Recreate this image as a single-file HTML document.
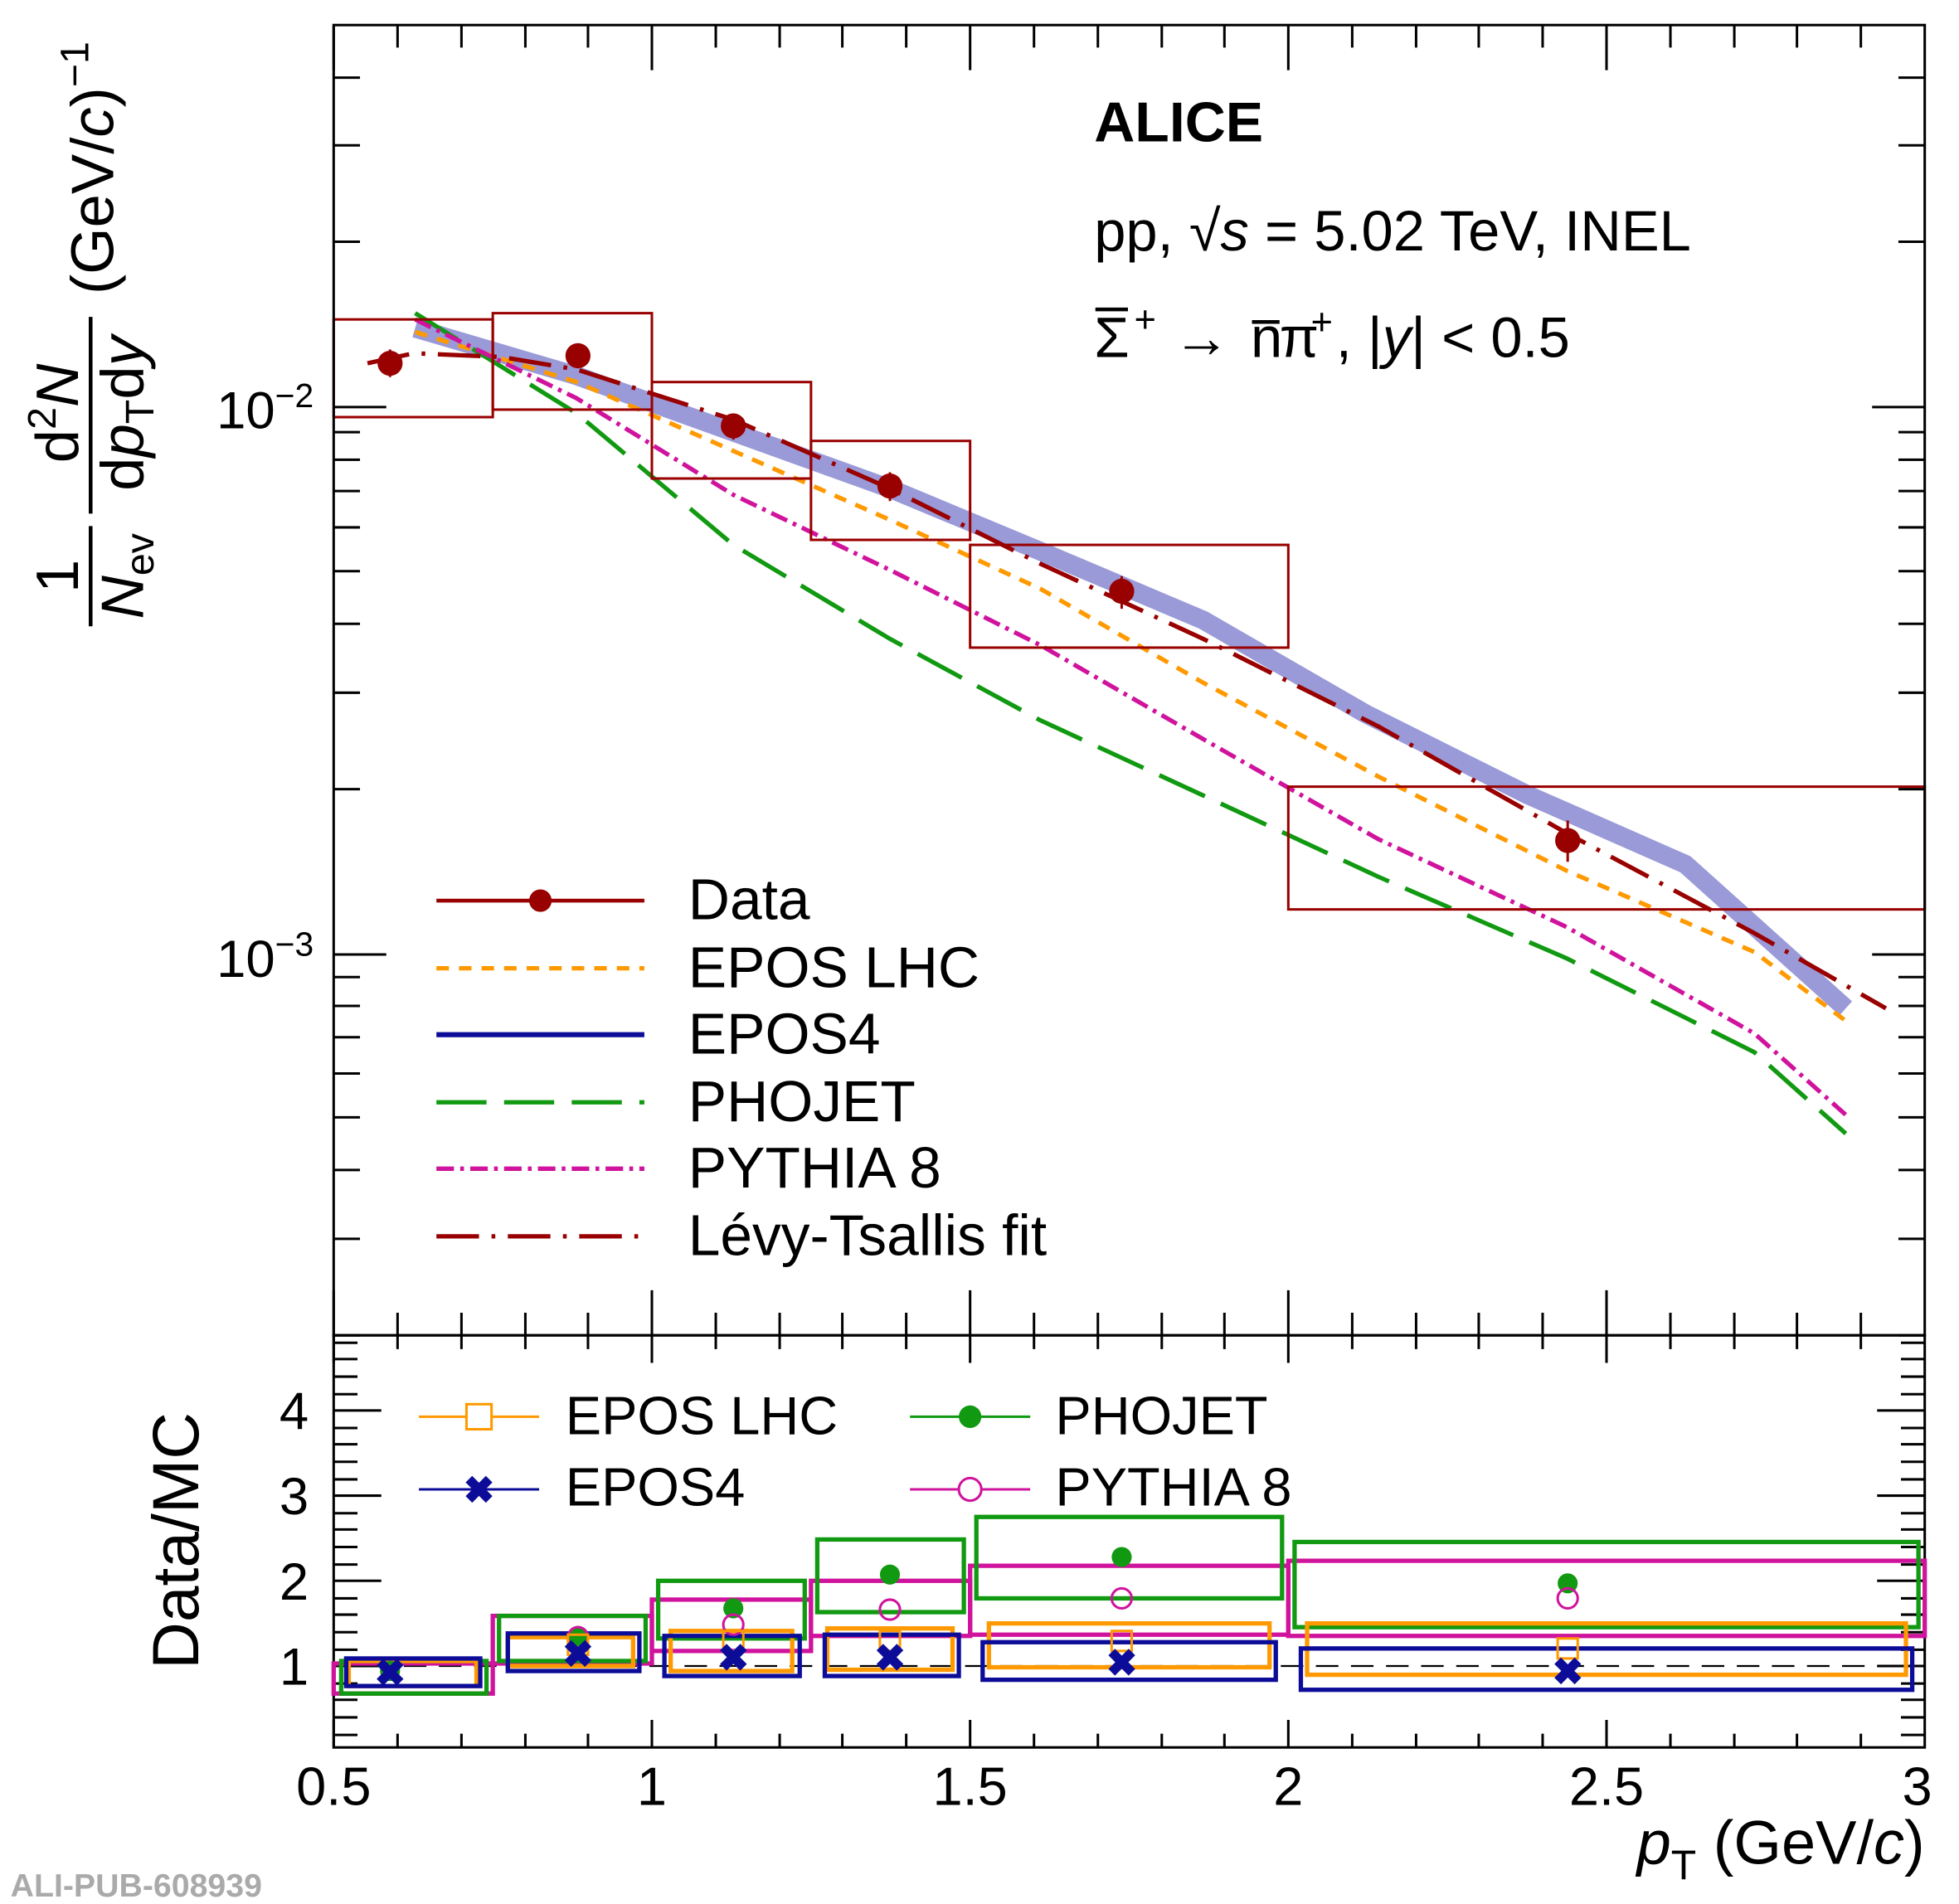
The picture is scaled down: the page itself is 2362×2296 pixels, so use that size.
<!DOCTYPE html>
<html><head><meta charset="utf-8"><style>
html,body{margin:0;padding:0;background:#fff}
svg{display:block}
text{font-family:"Liberation Sans",sans-serif}
</style></head><body>
<svg width="2362" height="2296" viewBox="0 0 1563 1520" xmlns="http://www.w3.org/2000/svg">
<rect width="1563" height="1520" fill="#fff"/>
<polyline points="331,262 460,300 585,345 710,390 830,440 960,495 1090,570 1220,635 1345,690 1473,805" fill="none" stroke="#9a9ad8" stroke-width="15" stroke-linejoin="round"/>
<polyline points="331,265 460,305 585,360 710,415 830,470 960,545 1100,620 1250,695 1400,760 1473,815" fill="none" stroke="#ff9900" stroke-width="3.5" stroke-dasharray="10,8"/>
<polyline points="331,250 460,330 585,435 710,510 830,575 960,635 1100,700 1250,765 1400,840 1473,905" fill="none" stroke="#119911" stroke-width="3.5" stroke-dasharray="40,14"/>
<polyline points="331,255 460,318 585,395 710,455 830,515 960,590 1100,670 1250,740 1400,825 1473,890" fill="none" stroke="#d0139d" stroke-width="3.5" stroke-dasharray="14,5,3,5"/>
<polyline points="293,290 330,282 400,285 460,295 585,335 710,390 830,450 960,510 1100,580 1250,665 1400,745 1505,805" fill="none" stroke="#990000" stroke-width="3.5" stroke-dasharray="34,10,3,10"/>
<g fill="none" stroke="#990000" stroke-width="2">
<rect x="266" y="255" width="127" height="78"/><rect x="393" y="250" width="127" height="77"/>
<rect x="520" y="305" width="127" height="77"/><rect x="647" y="352" width="127" height="79"/>
<rect x="774" y="435" width="254" height="82"/><rect x="1028" y="628" width="508" height="98"/>
</g>
<g fill="#990000" stroke="#990000" stroke-width="2">
<circle cx="311" cy="290" r="9"/><line x1="311" y1="279" x2="311" y2="301"/>
<circle cx="461" cy="284" r="9"/><line x1="461" y1="274" x2="461" y2="294"/>
<circle cx="585" cy="340" r="9"/><line x1="585" y1="330" x2="585" y2="351"/>
<circle cx="710" cy="388" r="9"/><line x1="710" y1="377" x2="710" y2="400"/>
<circle cx="895" cy="472" r="9"/><line x1="895" y1="460" x2="895" y2="486"/>
<circle cx="1251" cy="671" r="9"/><line x1="1251" y1="655" x2="1251" y2="688"/>
</g>
<g fill="none" stroke="#000" stroke-width="2">
<rect x="266" y="20" width="1270" height="1046"/>
<rect x="266" y="1066" width="1270" height="329"/>
</g>
<g stroke="#000" stroke-width="2">
<path d="M266,1066v-36M520,1066v-36M774,1066v-36M1028,1066v-36M1282,1066v-36M266,20v36M520,20v36M774,20v36M1028,20v36M1282,20v36"/>
<path d="M317,1066v-18M368,1066v-18M419,1066v-18M469,1066v-18M571,1066v-18M622,1066v-18M672,1066v-18M723,1066v-18M825,1066v-18M876,1066v-18M927,1066v-18M977,1066v-18M1079,1066v-18M1130,1066v-18M1180,1066v-18M1231,1066v-18M1333,1066v-18M1384,1066v-18M1434,1066v-18M1485,1066v-18
M317,20v18M368,20v18M419,20v18M469,20v18M571,20v18M622,20v18M672,20v18M723,20v18M825,20v18M876,20v18M927,20v18M977,20v18M1079,20v18M1130,20v18M1180,20v18M1231,20v18M1333,20v18M1384,20v18M1434,20v18M1485,20v18"/>
<path d="M266,1395v-22M520,1395v-22M774,1395v-22M1028,1395v-22M1282,1395v-22M266,1066v22M520,1066v22M774,1066v22M1028,1066v22M1282,1066v22"/>
<path d="M317,1395v-11M368,1395v-11M419,1395v-11M469,1395v-11M571,1395v-11M622,1395v-11M672,1395v-11M723,1395v-11M825,1395v-11M876,1395v-11M927,1395v-11M977,1395v-11M1079,1395v-11M1130,1395v-11M1180,1395v-11M1231,1395v-11M1333,1395v-11M1384,1395v-11M1434,1395v-11M1485,1395v-11
M317,1066v11M368,1066v11M419,1066v11M469,1066v11M571,1066v11M622,1066v11M672,1066v11M723,1066v11M825,1066v11M876,1066v11M927,1066v11M977,1066v11M1079,1066v11M1130,1066v11M1180,1066v11M1231,1066v11M1333,1066v11M1384,1066v11M1434,1066v11M1485,1066v11"/>
<path d="M266,325h42M266,762h42M1536,325h-42M1536,762h-42"/>
<path d="M266,1066h21M266,989h21M266,934h21M266,892h21M266,857h21M266,828h21M266,803h21M266,780h21M266,630h21M266,553h21M266,498h21M266,456h21M266,421h21M266,392h21M266,367h21M266,345h21M266,193h21M266,116h21M266,62h21
M1536,1066h-21M1536,989h-21M1536,934h-21M1536,892h-21M1536,857h-21M1536,828h-21M1536,803h-21M1536,780h-21M1536,630h-21M1536,553h-21M1536,498h-21M1536,456h-21M1536,421h-21M1536,392h-21M1536,367h-21M1536,345h-21M1536,193h-21M1536,116h-21M1536,62h-21"/>
<path d="M266,1330h38M266,1262h38M266,1194h38M266,1126h38M1536,1330h-38M1536,1262h-38M1536,1194h-38M1536,1126h-38"/>
<path d="M266,1385h19M266,1371h19M266,1357h19M266,1344h19M266,1317h19M266,1303h19M266,1289h19M266,1276h19M266,1249h19M266,1235h19M266,1221h19M266,1208h19M266,1181h19M266,1167h19M266,1153h19M266,1140h19M266,1113h19M266,1099h19M266,1085h19M266,1072h19
M1536,1385h-19M1536,1371h-19M1536,1357h-19M1536,1344h-19M1536,1317h-19M1536,1303h-19M1536,1289h-19M1536,1276h-19M1536,1249h-19M1536,1235h-19M1536,1221h-19M1536,1208h-19M1536,1181h-19M1536,1167h-19M1536,1153h-19M1536,1140h-19M1536,1113h-19M1536,1099h-19M1536,1085h-19M1536,1072h-19"/>
</g>
<line x1="266" y1="1330" x2="1536" y2="1330" stroke="#000" stroke-width="1.5" stroke-dasharray="18,10"/>
<g fill="none" stroke-width="3.5">
<g stroke="#d0139d">
<rect x="266" y="1328" width="127" height="24"/><rect x="393" y="1290" width="127" height="38"/><rect x="520" y="1277" width="127" height="41"/><rect x="647" y="1262" width="127" height="44"/><rect x="774" y="1250" width="254" height="55"/><rect x="1028" y="1246" width="508" height="60"/>
</g>
<g stroke="#119911">
<rect x="272" y="1326" width="116" height="26"/><rect x="398" y="1290" width="117" height="36"/><rect x="525" y="1262" width="117" height="46"/><rect x="652" y="1229" width="117" height="58"/><rect x="779" y="1211" width="244" height="65"/><rect x="1033" y="1231" width="498" height="68"/>
</g>
<g stroke="#ff9900">
<rect x="278" y="1326" width="102" height="20"/><rect x="405" y="1307" width="100" height="23"/><rect x="535" y="1302" width="97" height="32"/><rect x="660" y="1300" width="100" height="33"/><rect x="789" y="1296" width="224" height="35"/><rect x="1043" y="1296" width="478" height="41"/>
</g>
<g stroke="#0c0c99">
<rect x="276" y="1324" width="107" height="22"/><rect x="405" y="1304" width="105" height="30"/><rect x="530" y="1306" width="108" height="32"/><rect x="658" y="1305" width="107" height="33"/><rect x="784" y="1311" width="234" height="30"/><rect x="1038" y="1316" width="488" height="33"/>
</g>
</g>
<g fill="#119911"><circle cx="311" cy="1334" r="8"/><circle cx="461" cy="1306" r="8"/><circle cx="585" cy="1284" r="8"/><circle cx="710" cy="1257" r="8"/><circle cx="895" cy="1243" r="8"/><circle cx="1251" cy="1264" r="8"/></g>
<g fill="none" stroke="#d0139d" stroke-width="2"><circle cx="461" cy="1307" r="8"/><circle cx="585" cy="1297" r="8"/><circle cx="710" cy="1285" r="8"/><circle cx="895" cy="1276" r="8"/><circle cx="1251" cy="1276" r="8"/></g>
<g fill="none" stroke="#ff9900" stroke-width="2"><rect x="453" y="1305" width="16" height="16"/><rect x="577" y="1302" width="16" height="16"/><rect x="702" y="1302" width="16" height="16"/><rect x="887" y="1302" width="16" height="16"/><rect x="1243" y="1308" width="16" height="16"/></g>
<g fill="#0c0c99" font-size="30" font-weight="bold" text-anchor="middle">
<text x="311" y="1346">✖</text><text x="461" y="1331">✖</text><text x="585" y="1334">✖</text><text x="710" y="1334">✖</text><text x="895" y="1338">✖</text><text x="1251" y="1345">✖</text>
</g>
<g font-size="43" text-anchor="middle">
<text x="266" y="1441">0.5</text><text x="520" y="1441">1</text><text x="774" y="1441">1.5</text><text x="1028" y="1441">2</text><text x="1282" y="1441">2.5</text><text x="1530" y="1441">3</text>
</g>
<text x="1536" y="1488" font-size="49" text-anchor="end"><tspan font-style="italic">p</tspan><tspan font-size="33" dy="12">T</tspan><tspan dy="-12"> (GeV/</tspan><tspan font-style="italic">c</tspan>)</text>
<g font-size="42" text-anchor="end">
<text x="250" y="342">10<tspan font-size="27" dy="-17">−2</tspan></text>
<text x="250" y="780">10<tspan font-size="27" dy="-17">−3</tspan></text>
<text x="246" y="1345">1</text><text x="246" y="1277">2</text><text x="246" y="1209">3</text><text x="246" y="1141">4</text>
</g>
<text transform="translate(158,1230) rotate(-90)" font-size="52" text-anchor="middle">Data/MC</text>
<g transform="translate(70,265) rotate(-90)" font-size="48">
<text x="-195" y="-8" text-anchor="middle">1</text>
<line x1="-235" y1="2" x2="-155" y2="2" stroke="#000" stroke-width="3"/>
<text x="-195" y="44" text-anchor="middle"><tspan font-style="italic">N</tspan><tspan font-size="32" dy="8">ev</tspan></text>
<text x="-65" y="-8" text-anchor="middle">d<tspan font-size="32" dy="-18">2</tspan><tspan dy="18" font-style="italic">N</tspan></text>
<line x1="-145" y1="2" x2="12" y2="2" stroke="#000" stroke-width="3"/>
<text x="-65" y="44" text-anchor="middle">d<tspan font-style="italic">p</tspan><tspan font-size="32" dy="8">T</tspan><tspan dy="-8">d</tspan><tspan font-style="italic">y</tspan></text>
<text x="30" y="20">(GeV/<tspan font-style="italic">c</tspan>)<tspan font-size="32" dy="-20">−1</tspan></text>
</g>
<text x="873" y="113" font-size="45" font-weight="bold">ALICE</text>
<text x="873" y="200" font-size="45.5">pp, √<tspan font-style="italic">s</tspan> = 5.02 TeV, INEL</text>
<g font-size="45.5">
<text x="873" y="285">Σ</text><text x="905" y="265" font-size="30">+</text>
<text x="936" y="285">→</text>
<text x="998" y="285">n</text><text x="1021" y="285">π</text><text x="1046" y="267" font-size="30">+</text>
<text x="1066" y="285">, |<tspan font-style="italic">y</tspan>| &lt; 0.5</text>
</g>
<line x1="874" y1="247" x2="900" y2="247" stroke="#000" stroke-width="3"/>
<line x1="999" y1="257" x2="1021" y2="257" stroke="#000" stroke-width="3"/>
<g stroke-width="3">
<line x1="348" y1="719" x2="514" y2="719" stroke="#990000"/><circle cx="431" cy="719" r="9" fill="#990000"/>
<line x1="348" y1="773" x2="514" y2="773" stroke="#ff9900" stroke-width="3.5" stroke-dasharray="10,8"/>
<line x1="348" y1="826" x2="514" y2="826" stroke="#0c0c99" stroke-width="4"/>
<line x1="348" y1="880" x2="514" y2="880" stroke="#119911" stroke-width="3.5" stroke-dasharray="40,14"/>
<line x1="348" y1="933" x2="514" y2="933" stroke="#d0139d" stroke-width="3.5" stroke-dasharray="14,5,3,5"/>
<line x1="348" y1="987" x2="514" y2="987" stroke="#990000" stroke-width="3.5" stroke-dasharray="34,10,3,10"/>
</g>
<g font-size="46">
<text x="549" y="734">Data</text><text x="549" y="788">EPOS LHC</text><text x="549" y="841">EPOS4</text><text x="549" y="895">PHOJET</text><text x="549" y="948">PYTHIA 8</text><text x="549" y="1002">Lévy-Tsallis fit</text>
</g>
<g stroke-width="2">
<line x1="334" y1="1131" x2="430" y2="1131" stroke="#ff9900"/><rect x="372" y="1121" width="20" height="20" fill="#fff" stroke="#ff9900"/>
<line x1="334" y1="1189" x2="430" y2="1189" stroke="#0c0c99"/>
<line x1="726" y1="1131" x2="822" y2="1131" stroke="#119911"/><circle cx="774" cy="1131" r="9" fill="#119911"/>
<line x1="726" y1="1189" x2="822" y2="1189" stroke="#d0139d"/><circle cx="774" cy="1189" r="9" fill="#fff" stroke="#d0139d"/>
</g>
<text x="382" y="1200" font-size="30" font-weight="bold" fill="#0c0c99" text-anchor="middle">✖</text>
<g font-size="43">
<text x="451" y="1145">EPOS LHC</text><text x="451" y="1202">EPOS4</text><text x="842" y="1145">PHOJET</text><text x="842" y="1202">PYTHIA 8</text>
</g>
<text x="8" y="1514" font-size="26" font-family="Liberation Mono,monospace" font-weight="bold" fill="#aaa">ALI-PUB-608939</text>
</svg>
</body></html>
